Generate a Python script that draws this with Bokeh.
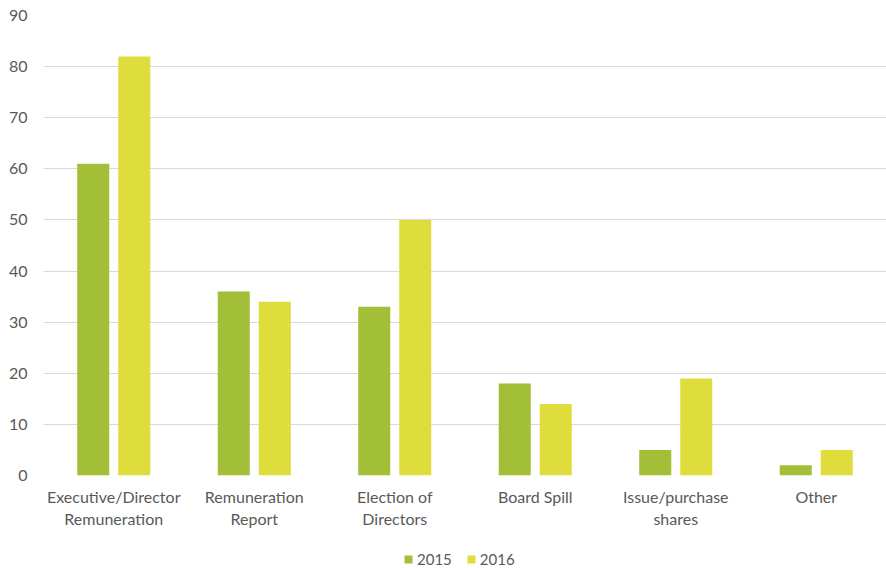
from bokeh.plotting import figure
from bokeh.layouts import column
from bokeh.models import ColumnDataSource, Range1d, FixedTicker, Legend, LegendItem
from bokeh.transform import dodge
from bokeh.embed import file_html
from bokeh.resources import INLINE

categories = ["Executive/Director\nRemuneration", "Remuneration\nReport", "Election of\nDirectors",
              "Board Spill", "Issue/purchase\nshares", "Other"]
v2015 = [61, 36, 33, 18, 5, 2]
v2016 = [82, 34, 50, 14, 19, 5]
yticks = [0, 10, 20, 30, 40, 50, 60, 70, 80, 90]
series_labels = ["2015", "2016"]

c2015 = "#A3BE37"
c2016 = "#DEDD3C"
FONT = "Lato"
GREY = "#595959"

xs = list(range(len(categories)))
src = ColumnDataSource(dict(x=xs, v2015=v2015, v2016=v2016))

p = figure(width=886, height=534, output_backend="svg", toolbar_location=None,
           x_range=Range1d(-0.5, len(categories) - 0.5), y_range=Range1d(0, 90),
           min_border_left=43, min_border_right=0, min_border_top=15, min_border_bottom=59)
p.outline_line_color = None
p.background_fill_color = "white"
p.border_fill_color = "white"

p.vbar(x=dodge("x", -0.146), top="v2015", width=0.228, source=src,
       fill_color=c2015, line_color=None)
p.vbar(x=dodge("x", 0.146), top="v2016", width=0.228, source=src,
       fill_color=c2016, line_color=None)

p.xaxis.ticker = FixedTicker(ticks=xs)
p.xaxis.major_label_overrides = {i: c for i, c in enumerate(categories)}
p.xaxis.axis_line_color = None
p.xaxis.major_tick_line_color = None
p.xaxis.minor_tick_line_color = None
p.xaxis.major_label_text_font = FONT
p.xaxis.major_label_text_font_size = "16px"
p.xaxis.major_label_text_color = GREY
p.xaxis.major_label_standoff = 5
p.xgrid.grid_line_color = None

p.yaxis.ticker = FixedTicker(ticks=yticks)
p.yaxis.axis_line_color = None
p.yaxis.major_tick_line_color = None
p.yaxis.minor_tick_line_color = None
p.yaxis.major_label_text_font = FONT
p.yaxis.major_label_text_font_size = "16px"
p.yaxis.major_label_text_color = GREY
p.yaxis.major_label_standoff = 10
p.ygrid.grid_line_color = "#D9D9D9"
p.ygrid.grid_line_width = 1

# legend strip below the chart (proxy renderers lie outside its visible ranges)
pl = figure(width=886, height=34, output_backend="svg", toolbar_location=None,
            x_range=Range1d(100, 101), y_range=Range1d(100, 101),
            x_axis_type=None, y_axis_type=None,
            min_border_left=0, min_border_right=0, min_border_top=0, min_border_bottom=0)
pl.outline_line_color = None
pl.xgrid.grid_line_color = None
pl.ygrid.grid_line_color = None
l1 = pl.vbar(x="x", top="v2015", width=0.228, source=src, fill_color=c2015, line_color=None)
l2 = pl.vbar(x="x", top="v2016", width=0.228, source=src, fill_color=c2016, line_color=None)
legend = Legend(items=[LegendItem(label=series_labels[0], renderers=[l1], index=0),
                       LegendItem(label=series_labels[1], renderers=[l2], index=0)],
                orientation="horizontal", location=(360, 0),
                label_text_font=FONT, label_text_font_size="15px", label_text_color=GREY,
                glyph_width=10, glyph_height=10, spacing=14, label_standoff=4,
                border_line_color=None, background_fill_alpha=0, padding=2, margin=0)
pl.add_layout(legend)

layout = column(p, pl, spacing=0)
open("out.html", "w").write(file_html(layout, INLINE))
